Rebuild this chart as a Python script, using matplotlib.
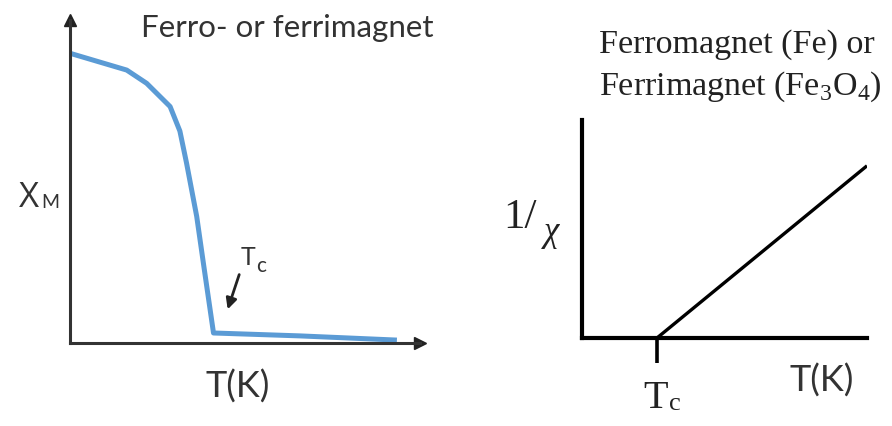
import matplotlib.pyplot as plt
import numpy as np

plt.rcParams['mathtext.fontset'] = 'custom'
plt.rcParams['mathtext.rm'] = 'Liberation Serif'

# left panel: susceptibility vs temperature (ferro/ferri)
T_ferro = [0.0, 0.162, 0.219, 0.286, 0.314, 0.333, 0.362, 0.381, 0.410, 0.657, 0.934]
chi_ferro = [0.897, 0.845, 0.804, 0.732, 0.656, 0.557, 0.392, 0.248, 0.031, 0.022, 0.009]

# right panel: 1/chi vs temperature (Curie-Weiss above Tc)
Tc = 0.263
T_inv = [Tc, 1.0]
inv_chi = [0.0, 0.79]

W, H = 892, 426
fig = plt.figure(figsize=(W / 100, H / 100), dpi=100)

def box(x0, y0, x1, y1):
    # pixel box (top-left origin) -> figure fraction rect
    return [x0 / W, 1 - y1 / H, (x1 - x0) / W, (y1 - y0) / H]

def px(x, y):
    return x / W, 1 - y / H

sans = ['Lato', 'DejaVu Sans']
serif = ['Liberation Serif', 'DejaVu Serif']
grey = '#333333'

# ---- left
ax1 = fig.add_axes(box(70, 20, 420, 343))
ax1.plot(T_ferro, chi_ferro, color='#5b9bd5', lw=3.6, solid_joinstyle='round', solid_capstyle='butt')
ax1.set_xlim(0, 1)
ax1.set_ylim(0, 1)
for s in ['top', 'right']:
    ax1.spines[s].set_visible(False)
for s in ['left', 'bottom']:
    ax1.spines[s].set_color(grey)
    ax1.spines[s].set_linewidth(2.2)
ax1.set_xticks([])
ax1.set_yticks([])
ax1.plot(1, 0, '>', color='#222222', ms=9, transform=ax1.get_yaxis_transform(), clip_on=False)
ax1.plot(0, 1, '^', color='#222222', ms=9, transform=ax1.get_xaxis_transform(), clip_on=False)
ax1.annotate('', xy=(0.448, 0.096), xytext=(0.486, 0.220),
             arrowprops=dict(arrowstyle='-|>', color='#222222', lw=2, mutation_scale=16))

fig.text(*px(287, 37), 'Ferro- or ferrimagnet', family=sans, fontsize=22.5, color=grey,
         ha='center', va='baseline')
fig.text(*px(29, 207), 'Χ', family=['Open Sans', 'DejaVu Sans'], fontsize=25, color=grey,
         ha='center', va='baseline')
fig.text(*px(50, 208), 'M', family=sans, fontsize=14, color=grey, ha='center', va='baseline')
fig.text(*px(238, 398), 'T(K)', family=sans, fontsize=26, color=grey, ha='center', va='baseline')
fig.text(*px(248, 265), 'T', family=sans, fontsize=18, color=grey, ha='center', va='baseline')
fig.text(*px(261, 272), 'c', family=sans, fontsize=15, color=grey, ha='center', va='baseline')

# ---- right
ax2 = fig.add_axes(box(582, 120, 867, 338))
ax2.plot(T_inv, inv_chi, color='black', lw=2.4, solid_capstyle='butt')
ax2.set_xlim(0, 1)
ax2.set_ylim(0, 1)
for s in ['top', 'right']:
    ax2.spines[s].set_visible(False)
for s in ['left', 'bottom']:
    ax2.spines[s].set_color('black')
    ax2.spines[s].set_linewidth(3)
ax2.set_yticks([])
ax2.set_xticks([Tc])
ax2.set_xticklabels([''])
ax2.tick_params(axis='x', length=18, width=2.6, color='black', direction='out')

fig.text(*px(599, 53), 'Ferromagnet (Fe) or', family=serif, fontsize=24.5, color='#222222',
         ha='left', va='baseline')
fig.text(*px(599, 95), 'Ferrimagnet (Fe$_3$O$_4$)', family=serif, fontsize=24.5, color='#222222',
         ha='left', va='baseline')
fig.text(*px(520, 228), '1/', family=serif, fontsize=31, color='#222222', ha='center', va='baseline')
fig.text(*px(551, 241), 'χ', family=serif, style='italic', fontsize=25, color='#222222',
         ha='center', va='baseline')
fig.text(*px(656, 408), 'T', family=serif, fontsize=29, color='#222222', ha='center', va='baseline')
fig.text(*px(675, 410), 'c', family=serif, fontsize=19, color='#222222', ha='center', va='baseline')
fig.text(*px(822, 392), 'T(K)', family=sans, fontsize=26, color=grey, ha='center', va='baseline')

fig.savefig('out.png', dpi=100)
